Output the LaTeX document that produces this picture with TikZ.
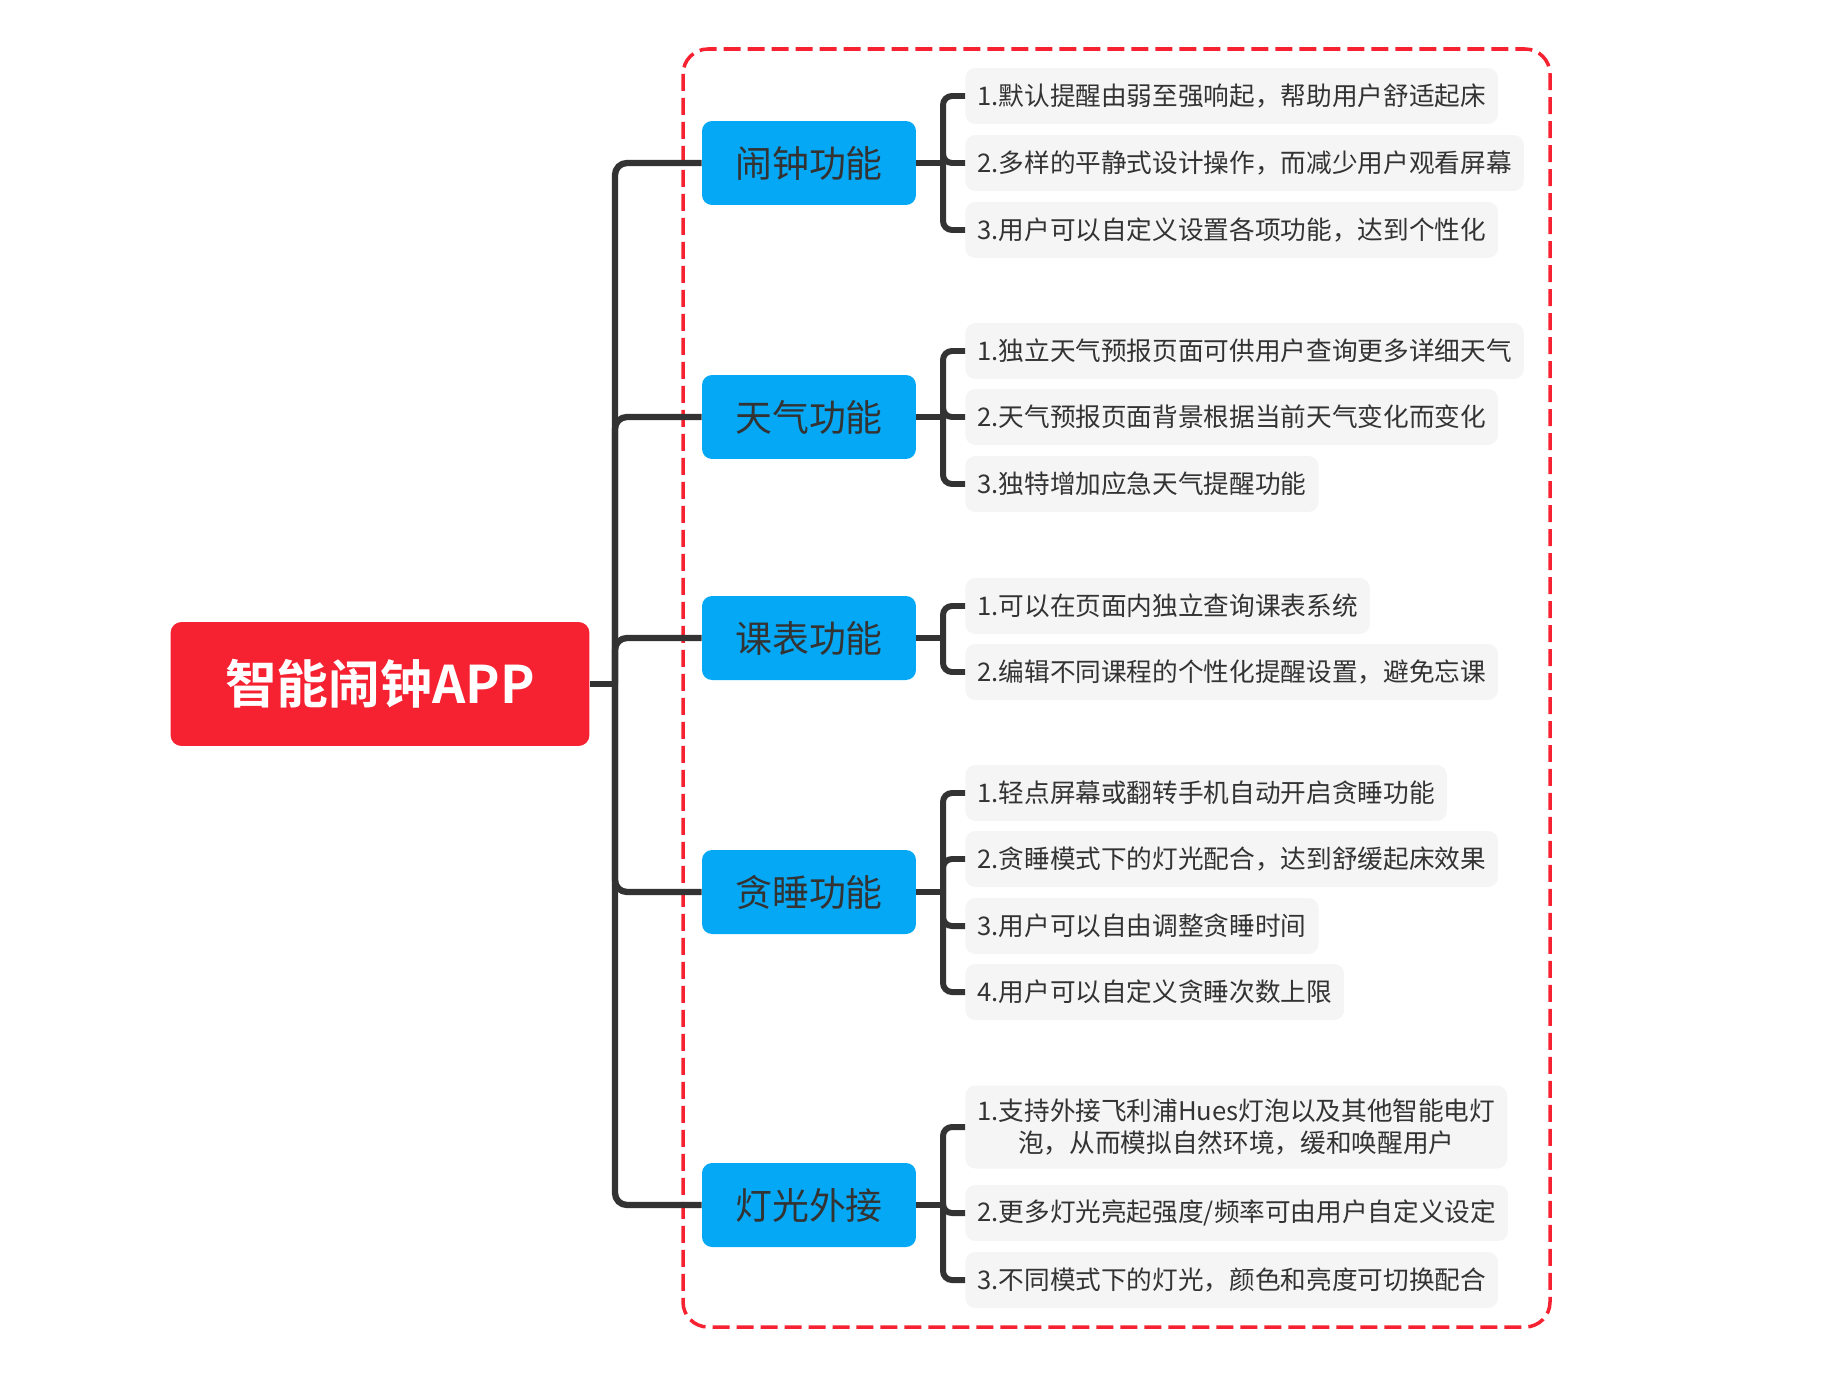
\documentclass[tikz,border=0pt]{standalone}
\usepackage{fontspec}
\setmainfont{Noto Sans CJK SC}[BoldFont=* Bold]
\usepackage{xcolor}
\usetikzlibrary{positioning}
\definecolor{xred}{RGB}{246,34,50}
\definecolor{xblue}{RGB}{5,168,245}
\definecolor{xgray}{RGB}{245,245,245}
\definecolor{xink}{RGB}{51,51,51}

\begin{document}
\begin{tikzpicture}[
  x=0.02cm, y=-0.02cm,
  root/.style={fill=xred, rounded corners=0.22cm,
               minimum width=8.38cm, minimum height=2.48cm,
               font=\fontsize{29.5}{34}\selectfont\bfseries, text=white, align=center},
  topic/.style={fill=xblue, rounded corners=0.2cm,
                minimum width=4.28cm, minimum height=1.68cm,
                font=\fontsize{21}{25}\selectfont, text=xink, align=center},
  leaf/.style={fill=xgray, rounded corners=0.2cm, anchor=west,
               inner xsep=0.24cm, minimum height=1.12cm,
               font=\fontsize{14.6}{18.5}\selectfont, text=xink, align=center},
  link/.style={draw=xink, line width=3.6pt, rounded corners=0.24cm},
  sublink/.style={draw=xink, line width=3.4pt, rounded corners=0.18cm},
  frame/.style={draw=xred, line width=2pt, dash pattern=on 0.34cm off 0.14cm,
                rounded corners=0.5cm}
]
  \useasboundingbox (0,0) rectangle (1841,1372);

  % dashed frame round the branches
  \draw[frame] (683,49) rectangle (1550,1327);

  \node[root] (app) at (380,684) {智能闹钟APP};
  \coordinate (trunk) at (615,684);

  \node[topic] (alarm)   at (809,163)  {闹钟功能};
  \node[topic] (weather) at (809,417)  {天气功能};
  \node[topic] (course)  at (809,638)  {课表功能};
  \node[topic] (snooze)  at (809,892)  {贪睡功能};
  \node[topic] (light)   at (809,1205) {灯光外接};

  \node[leaf] (a1) at (965,96)  {1.默认提醒由弱至强响起，帮助用户舒适起床};
  \node[leaf] (a2) at (965,163) {2.多样的平静式设计操作，而减少用户观看屏幕};
  \node[leaf] (a3) at (965,230) {3.用户可以自定义设置各项功能，达到个性化};

  \node[leaf] (w1) at (965,351) {1.独立天气预报页面可供用户查询更多详细天气};
  \node[leaf] (w2) at (965,417) {2.天气预报页面背景根据当前天气变化而变化};
  \node[leaf] (w3) at (965,484) {3.独特增加应急天气提醒功能};

  \node[leaf] (c1) at (965,606) {1.可以在页面内独立查询课表系统};
  \node[leaf] (c2) at (965,672) {2.编辑不同课程的个性化提醒设置，避免忘课};

  \node[leaf] (s1) at (965,793) {1.轻点屏幕或翻转手机自动开启贪睡功能};
  \node[leaf] (s2) at (965,859) {2.贪睡模式下的灯光配合，达到舒缓起床效果};
  \node[leaf] (s3) at (965,926) {3.用户可以自由调整贪睡时间};
  \node[leaf] (s4) at (965,992) {4.用户可以自定义贪睡次数上限};

  \node[leaf, minimum height=1.66cm] (l1) at (965,1127)
    {1.支持外接飞利浦Hues灯泡以及其他智能电灯\\泡，从而模拟自然环境，缓和唤醒用户};
  \node[leaf] (l2) at (965,1213) {2.更多灯光亮起强度/频率可由用户自定义设定};
  \node[leaf] (l3) at (965,1280) {3.不同模式下的灯光，颜色和亮度可切换配合};

  % main branches
  \draw[link] (app.east) -- (trunk);
  \draw[link] (trunk) |- (alarm.west);
  \draw[link] (trunk) |- (weather.west);
  \draw[link] (trunk) |- (course.west);
  \draw[link] (trunk) |- (snooze.west);
  \draw[link] (trunk) |- (light.west);

  % sub branches
  \coordinate (alarm-j)   at (943,163);
  \coordinate (weather-j) at (943,417);
  \coordinate (course-j)  at (943,638);
  \coordinate (snooze-j)  at (943,892);
  \coordinate (light-j)   at (943,1205);

  \draw[sublink] (alarm) -- (alarm-j);
  \draw[sublink] (alarm-j) |- (a1.west);
  \draw[sublink] (alarm-j) |- (a2.west);
  \draw[sublink] (alarm-j) |- (a3.west);

  \draw[sublink] (weather) -- (weather-j);
  \draw[sublink] (weather-j) |- (w1.west);
  \draw[sublink] (weather-j) |- (w2.west);
  \draw[sublink] (weather-j) |- (w3.west);

  \draw[sublink] (course) -- (course-j);
  \draw[sublink] (course-j) |- (c1.west);
  \draw[sublink] (course-j) |- (c2.west);

  \draw[sublink] (snooze) -- (snooze-j);
  \draw[sublink] (snooze-j) |- (s1.west);
  \draw[sublink] (snooze-j) |- (s2.west);
  \draw[sublink] (snooze-j) |- (s3.west);
  \draw[sublink] (snooze-j) |- (s4.west);

  \draw[sublink] (light) -- (light-j);
  \draw[sublink] (light-j) |- (l1.west);
  \draw[sublink] (light-j) |- (l2.west);
  \draw[sublink] (light-j) |- (l3.west);
\end{tikzpicture}
\end{document}
